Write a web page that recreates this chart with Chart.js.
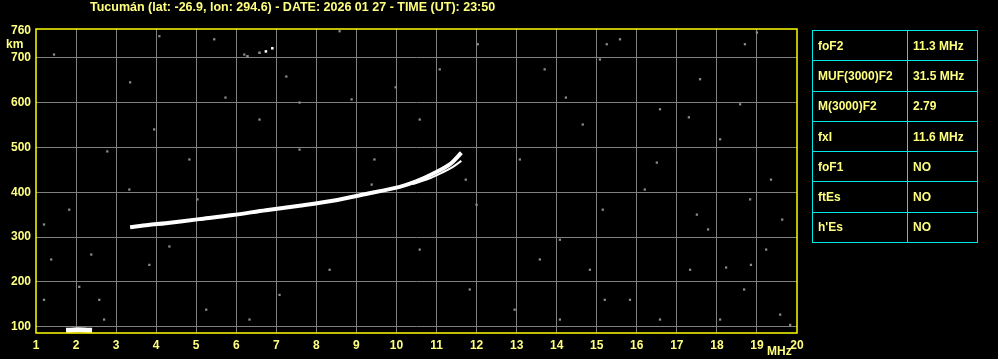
<!DOCTYPE html>
<html>
<head>
<meta charset="utf-8">
<script src="https://cdn.jsdelivr.net/npm/chart.js@4.4.1/dist/chart.umd.min.js"></script>
<style>
  body { margin: 0; background: #000; width: 998px; height: 359px; overflow: hidden; position: relative; font-family: 'Liberation Sans', Arial, sans-serif; }
  #title { position: absolute; left: 90px; top: 0px; color: #ffff80; font: bold 12.5px 'Liberation Sans', Arial, sans-serif; white-space: nowrap; line-height: 14px; }
  #params { position: absolute; left: 812px; top: 30px; border-collapse: collapse; }
  #params td { border: 1px solid #00e8e8; color: #ffff80; font: bold 12px 'Liberation Sans', Arial, sans-serif; height: 29.3px; padding: 0 0 0 5px; white-space: nowrap; }
  #params td.k { width: 89px; }
  #params td.v { width: 64px; }
</style>
</head>
<body>
<canvas id="ionogram" width="998" height="359"></canvas>
<div id="title">Tucumán (lat: -26.9, lon: 294.6) - DATE: 2026 01 27 - TIME (UT): 23:50</div>
<table id="params"></table>
<script>
// Ionogram axes
const freqTicks = [1, 2, 3, 4, 5, 6, 7, 8, 9, 10, 11, 12, 13, 14, 15, 16, 17, 18, 19, 20];
const heightTicks = [100, 200, 300, 400, 500, 600, 700, 760];

// F2 trace (ordinary) and the split branch near the top
const traceFreq = [3.35, 3.8, 4.24, 5.08, 5.91, 6.74, 7.58, 8.41, 9.24, 10.08, 10.49, 10.91, 11.33, 11.62];
const traceHeight = [322, 327, 331, 340, 349, 360, 370, 381, 396, 412, 424, 441, 462, 488];
const branchFreq = [10.4, 10.8, 11.1, 11.4, 11.62];
const branchHeight = [418, 430, 442, 456, 470];

// E echo near the bottom
const eFreq = [1.75, 2.05, 2.4];
const eHeight = [92, 93, 92];

// faint multi-hop echo near the top
const topFreq = [6.28, 6.58, 6.74, 6.9];
const topHeight = [703, 711, 714, 721];

// scattered noise echoes
const noiseFreq = [13.7, 15.58, 18.7, 19.0, 17.3, 16.5, 17.33, 18.23, 18.85, 18.58, 18.68, 15.25, 15.15, 13.08, 12.0, 11.73,
  9.45, 9.98, 9.38, 8.88, 7.58, 5.73, 3.35, 2.08, 2.38, 2.58, 3.83, 4.33, 5.03, 5.25, 2.78, 3.95, 1.45, 1.2, 1.38, 5.45,
  4.08, 6.2, 7.25, 8.58, 11.08, 12.03, 14.23, 14.65, 16.2, 17.5, 17.78, 19.35, 19.63, 14.08, 14.83, 15.83, 12.95, 11.83,
  10.58, 8.33, 7.08, 6.33, 14.08, 16.58, 18.08, 19.58, 19.83, 15.08, 18.08, 17.58, 16.58, 10.58, 7.58, 6.58, 4.83, 3.33,
  1.83, 1.2, 2.7, 13.58, 15.2, 18.83, 19.23];
const noiseHeight = [674, 741, 730, 756, 567, 466, 227, 232, 238, 596, 183, 730, 361, 473, 372, 428,
  473, 634, 417, 607, 600, 611, 645, 189, 261, 160, 238, 279, 384, 138, 491, 540, 707, 328, 250, 741,
  748, 707, 658, 759, 674, 730, 611, 551, 406, 350, 317, 428, 339, 294, 227, 160, 138, 183,
  272, 227, 171, 116, 116, 116, 116, 127, 104, 696, 518, 652, 585, 562, 495, 562, 473, 406,
  361, 160, 116, 250, 160, 384, 272];

// scaled parameters table
const paramNames = ['foF2', 'MUF(3000)F2', 'M(3000)F2', 'fxI', 'foF1', 'ftEs', "h'Es"];
const paramValues = ['11.3 MHz', '31.5 MHz', '2.79', '11.6 MHz', 'NO', 'NO', 'NO'];

const table = document.getElementById('params');
paramNames.forEach((name, i) => {
  const row = table.insertRow();
  const k = row.insertCell(); k.className = 'k'; k.textContent = name;
  const v = row.insertCell(); v.className = 'v'; v.textContent = paramValues[i];
});

const toPoints = (xs, ys) => xs.map((x, i) => ({ x: x, y: ys[i] }));

const yellow = '#ffff00';
const labelColor = '#ffff80';
const labelFont = { family: "'Liberation Sans', Arial, sans-serif", size: 12, weight: 'bold' };

// frame + unit labels
const framePlugin = {
  id: 'frame',
  afterDraw(chart) {
    const { ctx, chartArea } = chart;
    ctx.save();
    ctx.strokeStyle = yellow;
    ctx.lineWidth = 1.5;
    ctx.strokeRect(chartArea.left, chartArea.top, chartArea.right - chartArea.left, chartArea.bottom - chartArea.top);
    ctx.fillStyle = labelColor;
    ctx.font = "bold 12px 'Liberation Sans', Arial, sans-serif";
    ctx.textBaseline = 'middle';
    ctx.textAlign = 'left';
    ctx.fillText('km', 6, 45);
    ctx.fillText('MHz', 767, 352);
    ctx.restore();
  }
};

const ctx = document.getElementById('ionogram').getContext('2d');

const ionoChart = new Chart(ctx, {
  type: 'scatter',
  data: {
    datasets: [
      {
        label: 'noise',
        data: toPoints(noiseFreq, noiseHeight),
        backgroundColor: '#8c8c8c',
        borderWidth: 0,
        pointStyle: 'rect',
        pointRadius: 1.6
      },
      {
        label: 'top echo',
        data: toPoints(topFreq, topHeight),
        backgroundColor: ['#8c8c8c', '#8c8c8c', '#ffffff', '#ffffff'],
        borderWidth: 0,
        pointStyle: 'rect',
        pointRadius: 1.8
      },
      {
        type: 'line',
        label: 'E',
        data: toPoints(eFreq, eHeight),
        borderColor: '#ffffff',
        borderWidth: 5,
        pointRadius: 0,
        tension: 0.3
      },
      {
        type: 'line',
        label: 'F2 branch',
        data: toPoints(branchFreq, branchHeight),
        borderColor: '#ffffff',
        borderWidth: 2,
        pointRadius: 0,
        tension: 0.3
      },
      {
        type: 'line',
        label: 'F2',
        data: toPoints(traceFreq, traceHeight),
        borderColor: '#ffffff',
        borderWidth: 4,
        pointRadius: 0,
        tension: 0.3
      }
    ]
  },
  options: {
    responsive: false,
    animation: false,
    events: [],
    layout: { padding: { top: 29, right: 201, left: 0, bottom: 0 } },
    scales: {
      x: {
        type: 'linear',
        min: 1,
        max: 20,
        afterFit: (scale) => { scale.height = 26; },
        afterBuildTicks: (scale) => { scale.ticks = freqTicks.map(v => ({ value: v })); },
        grid: {
          color: (c) => (c.tick && (c.tick.value === 1 || c.tick.value === 20)) ? 'rgba(0,0,0,0)' : '#808080',
          lineWidth: 1,
          drawTicks: false
        },
        border: { display: false },
        ticks: {
          color: labelColor,
          font: labelFont,
          padding: 5,
          maxRotation: 0,
          autoSkip: false
        }
      },
      y: {
        type: 'linear',
        min: 86,
        max: 764,
        afterFit: (scale) => { scale.width = 36; },
        afterBuildTicks: (scale) => { scale.ticks = heightTicks.map(v => ({ value: v })); },
        grid: {
          color: (c) => (c.tick && c.tick.value === 760) ? 'rgba(0,0,0,0)' : '#808080',
          lineWidth: 1,
          drawTicks: false
        },
        border: { display: false },
        ticks: {
          color: labelColor,
          font: labelFont,
          padding: 5,
          autoSkip: false
        }
      }
    },
    plugins: {
      legend: { display: false },
      tooltip: { enabled: false },
      title: { display: false }
    }
  },
  plugins: [framePlugin]
});
</script>
</body>
</html>
